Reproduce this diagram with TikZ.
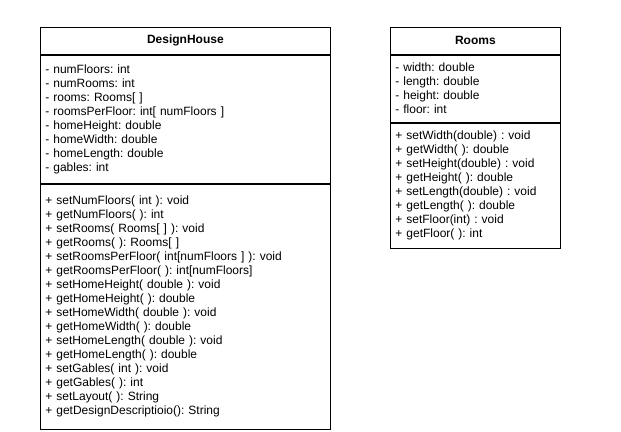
\documentclass[tikz,border=0pt]{standalone}
\usepackage{fontspec}
\setmainfont{Liberation Sans}
\usepackage{tikz}
\frenchspacing

\begin{document}
\begin{tikzpicture}[x=1pt,y=-1pt,
        classname/.style={draw, line width=0.8pt, anchor=north west, minimum height=27pt, inner sep=0pt,
            font=\bfseries\fontsize{12}{14}\selectfont},
        members/.style={draw, line width=0.8pt, anchor=north west, align=left, inner xsep=5pt, inner ysep=0pt,
            font=\fontsize{12}{14}\selectfont}]
            \useasboundingbox (0,0) rectangle (621,431);
            % DesignHouse
            \node[classname, minimum width=290pt] (houseName) at (40,27) {DesignHouse};
            \node[members, text width=280pt, minimum height=128pt] (houseAttr) at (houseName.south west)
                {- numFloors: int\\
                 - numRooms: int\\
                 - rooms: Rooms[ ]\\
                 - roomsPerFloor: int[ numFloors ]\\
                 - homeHeight: double\\
                 - homeWidth: double\\
                 - homeLength: double\\
                 - gables: int};
            \node[members, text width=280pt, minimum height=245pt] (houseOps) at (houseAttr.south west)
                {+ setNumFloors( int ): void\\
                 + getNumFloors( ): int\\
                 + setRooms( Rooms[ ] ): void\\
                 + getRooms( ): Rooms[ ]\\
                 + setRoomsPerFloor( int[numFloors ] ): void\\
                 + getRoomsPerFloor( ): int[numFloors]\\
                 + setHomeHeight( double ): void\\
                 + getHomeHeight( ): double\\
                 + setHomeWidth( double ): void\\
                 + getHomeWidth( ): double\\
                 + setHomeLength( double ): void\\
                 + getHomeLength( ): double\\
                 + setGables( int ): void\\
                 + getGables( ): int\\
                 + setLayout( ): String\\
                 + getDesignDescriptioio(): String};
            % Rooms
            \node[classname, minimum width=170pt] (roomsName) at (390,27) {Rooms};
            \node[members, text width=160pt, minimum height=67pt] (roomsAttr) at (roomsName.south west)
                {- width: double\\
                 - length: double\\
                 - height: double\\
                 - floor: int};
            \node[members, text width=160pt, minimum height=125pt] (roomsOps) at (roomsAttr.south west)
                {+ setWidth(double) : void\\
                 + getWidth( ): double\\
                 + setHeight(double) : void\\
                 + getHeight( ): double\\
                 + setLength(double) : void\\
                 + getLength( ): double\\
                 + setFloor(int) : void\\
                 + getFloor( ): int};
        \end{tikzpicture}
\end{document}
